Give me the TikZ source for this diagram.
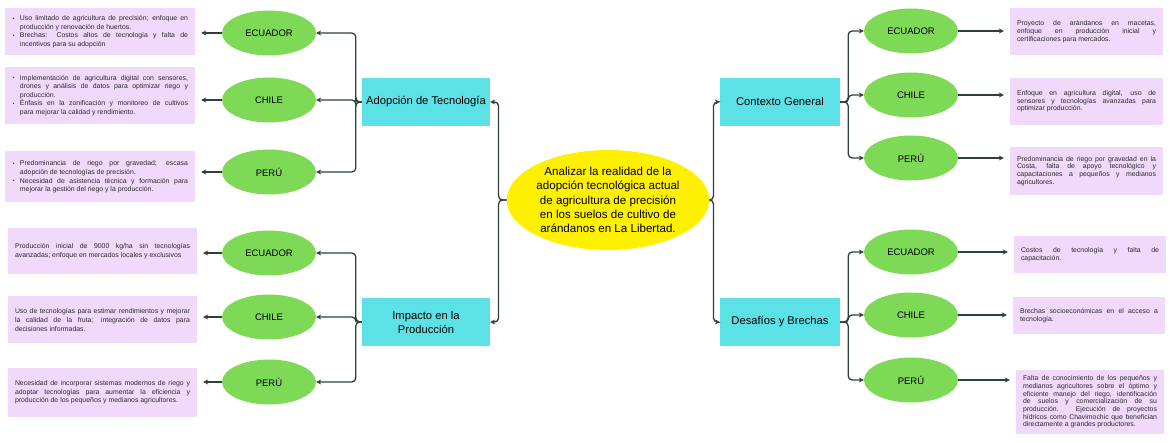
\documentclass[tikz,border=0pt]{standalone}
\usepackage{fontspec}
\setmainfont{Liberation Sans}
\usetikzlibrary{shapes.geometric,arrows.meta}
\definecolor{leafgreen}{HTML}{7ED957}
\definecolor{topiccyan}{HTML}{5CE1E6}
\definecolor{hubyellow}{HTML}{FFF000}
\definecolor{notepink}{HTML}{F1D9FB}
\definecolor{linedark}{HTML}{2F3F3A}
\definecolor{txt}{HTML}{2A2A2A}
\newcommand{\bul}{\hangindent=8pt\hangafter=1\noindent\makebox[8pt][l]{\hspace{1pt}\raisebox{0.4pt}{\scalebox{0.7}{\textbullet}}}}
\newcommand{\lb}{\linebreak}
\newcommand{\nohy}{\hyphenpenalty=10000\exhyphenpenalty=10000\tolerance=10000\emergencystretch=20pt}
\begin{document}
\begin{tikzpicture}[x=1pt,y=-1pt,
  hub/.style={ellipse, fill=hubyellow, minimum width=200pt, minimum height=100pt, inner sep=0pt, align=center, font=\fontsize{11.6}{14.3}\selectfont},
  topic/.style={rectangle, fill=topiccyan, minimum height=48pt, inner sep=0pt, align=center, font=\fontsize{11.2}{14}\selectfont},
  leaf/.style={ellipse, fill=leafgreen, minimum width=94pt, minimum height=45pt, inner sep=0pt, font=\fontsize{9.5}{11}\selectfont},
  note/.style={rectangle, fill=notepink, inner xsep=7pt, inner ysep=0pt, align=justify, text=txt, font=\fontsize{6.9}{8.6}\selectfont\nohy},
  rnote/.style={note, font=\fontsize{6.9}{7.7}\selectfont\nohy},
  conn/.style={draw=linedark, line width=1.3pt, rounded corners=4pt, -{Stealth[length=5pt,width=5pt]}}
]
\useasboundingbox (0,0) rectangle (1170,443);

% hub
\node[hub] (c) at (608,200) {Analizar la realidad de la\\adopción tecnológica actual\\de agricultura de precisión\\en los suelos de cultivo de\\arándanos en La Libertad.};

% topics
\node[topic, minimum width=128pt] (adop) at (426,102) {Adopción de Tecnología};
\node[topic, minimum width=128pt] (imp) at (426,322) {Impacto en la\\Producción};
\node[topic, minimum width=120pt] (ctx) at (780,102) {Contexto General};
\node[topic, minimum width=120pt] (des) at (780,322) {Desafíos y Brechas};

% left leaves
\node[leaf] (la1) at (269,33) {ECUADOR};
\node[leaf] (la2) at (269,100) {CHILE};
\node[leaf] (la3) at (269,172) {PERÚ};
\node[leaf] (lb1) at (269,253) {ECUADOR};
\node[leaf] (lb2) at (269,317) {CHILE};
\node[leaf] (lb3) at (269,382) {PERÚ};
% right leaves
\node[leaf] (ra1) at (911,31) {ECUADOR};
\node[leaf] (ra2) at (911,95) {CHILE};
\node[leaf] (ra3) at (911,158) {PERÚ};
\node[leaf] (rb1) at (911,252) {ECUADOR};
\node[leaf] (rb2) at (911,315) {CHILE};
\node[leaf] (rb3) at (911,380) {PERÚ};

% left notes
\node[note, text width=176pt, minimum height=47pt] (na1) at (100,31.5) {\bul Uso limitado de agricultura de precisión; enfoque en\lb producción y renovación de huertos.\par\bul Brechas: Costos altos de tecnología y falta de\lb incentivos para su adopción\par};
\node[note, text width=176pt, minimum height=57pt] (na2) at (100,95.5) {\bul Implementación de agricultura digital con sensores,\lb drones y análisis de datos para optimizar riego y\lb producción.\par\bul Énfasis en la zonificación y monitoreo de cultivos\lb para mejorar la calidad y rendimiento.\par};
\node[note, text width=176pt, minimum height=51pt] (na3) at (100,177) {\bul Predominancia de riego por gravedad; escasa\lb adopción de tecnologías de precisión.\par\bul Necesidad de asistencia técnica y formación para\lb mejorar la gestión del riego y la producción.\par};
\node[note, text width=175pt, minimum height=46pt] (nb1) at (102.5,251) {Producción inicial de 9000 kg/ha sin tecnologías\lb avanzadas; enfoque en mercados locales y exclusivos};
\node[note, text width=175pt, minimum height=47pt] (nb2) at (102.5,320) {Uso de tecnologías para estimar rendimientos y mejorar\lb la calidad de la fruta; integración de datos para\lb decisiones informadas.};
\node[note, text width=175pt, minimum height=49pt] (nb3) at (102.5,392.5) {Necesidad de incorporar sistemas modernos de riego y\lb adoptar tecnologías para aumentar la eficiencia y\lb producción de los pequeños y medianos agricultores.};

% right notes
\node[rnote, text width=139pt, minimum height=47pt] (ma1) at (1086.5,31.5) {Proyecto de arándanos en macetas,\lb enfoque en producción inicial y\lb certificaciones para mercados.};
\node[rnote, text width=139pt, minimum height=47pt] (ma2) at (1086.5,101.5) {Enfoque en agricultura digital, uso de\lb sensores y tecnologías avanzadas para\lb optimizar producción.};
\node[rnote, text width=139pt, minimum height=48pt] (ma3) at (1086.5,171) {Predominancia de riego por gravedad en la\lb Costa, falta de apoyo tecnológico y\lb capacitaciones a pequeños y medianos\lb agricultores.};
\node[rnote, text width=138pt, minimum height=37pt] (mb1) at (1090,254.5) {Costos de tecnología y falta de\lb capacitación.};
\node[rnote, text width=138pt, minimum height=37pt] (mb2) at (1089,315.5) {Brechas socioeconómicas en el acceso a\lb tecnología.};
\node[rnote, text width=134pt, minimum height=63pt] (mb3) at (1090,402) {Falta de conocimiento de los pequeños y\lb medianos agricultores sobre el óptimo y\lb eficiente manejo del riego, identificación\lb de suelos y comercialización de su\lb producción. Ejecución de proyectos\lb hídricos como Chavimochic que benefician\lb directamente a grandes productores.};

% hub to topics
\draw[conn] (c.west) -- ++(-8,0) |- (adop.east);
\draw[conn] (c.west) -- ++(-8,0) |- (imp.east);
\draw[conn] (c.east) -- ++(4,0) |- (ctx.west);
\draw[conn] (c.east) -- ++(4,0) |- (des.west);

% topics to leaves
\foreach \l in {la1,la2,la3} \draw[conn] (adop.west) -- ++(-6,0) |- (\l.east);
\foreach \l in {lb1,lb2,lb3} \draw[conn] (imp.west) -- ++(-6,0) |- (\l.east);
\foreach \l in {ra1,ra2,ra3} \draw[conn] (ctx.east) -- ++(8,0) |- (\l.west);
\foreach \l in {rb1,rb2,rb3} \draw[conn] (des.east) -- ++(8,0) |- (\l.west);

% leaves to notes
\foreach \l/\n in {la1/na1,la2/na2,la3/na3,lb1/nb1,lb2/nb2,lb3/nb3}
  \draw[conn, shorten >=6pt] (\l.west) -- (\l.west -| \n.east);
\foreach \l/\n in {ra1/ma1,ra2/ma2,ra3/ma3,rb1/mb1,rb2/mb2,rb3/mb3}
  \draw[conn, shorten >=6pt] (\l.east) -- (\l.east -| \n.west);
\end{tikzpicture}
\end{document}
